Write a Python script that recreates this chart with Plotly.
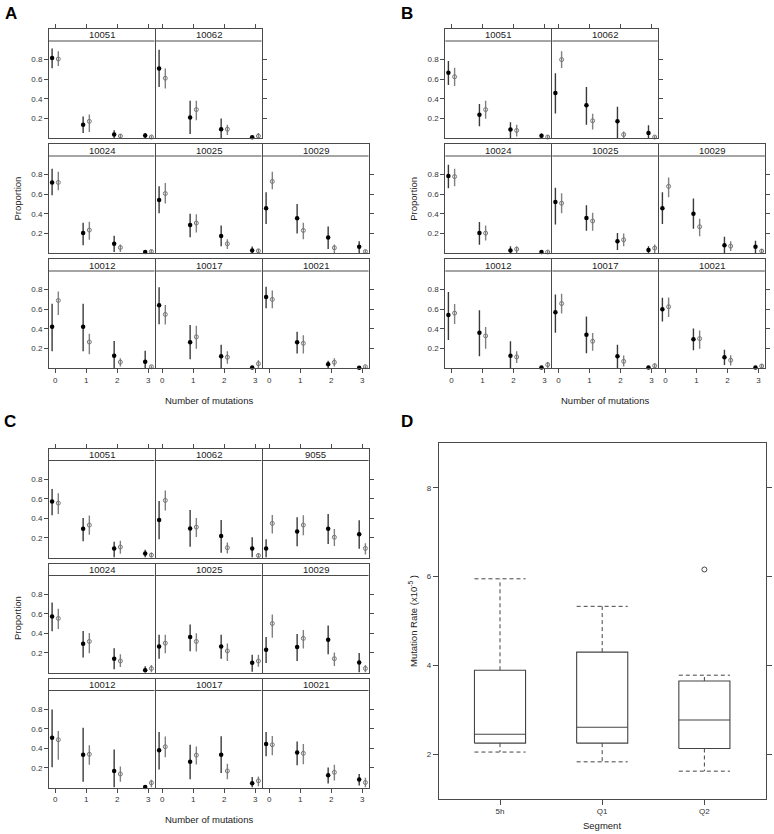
import plotly.graph_objects as go

# ---------------- DATA ----------------
mutations = [0, 1, 2, 3]
tick_labels_y = ["0.2", "0.4", "0.6", "0.8"]
tick_vals_y = [0.2, 0.4, 0.6, 0.8]

AB_facets = ["10051", "10062", "10024", "10025", "10029", "10012", "10017", "10021"]
C_facets = ["10051", "10062", "9055", "10024", "10025", "10029", "10012", "10017", "10021"]

# Panel A
A_black_est = [[0.817, 0.135, 0.035, 0.025], [0.71, 0.21, 0.09, 0.008], [0.72, 0.203, 0.094, 0.01],
               [0.54, 0.285, 0.173, 0.026], [0.456, 0.354, 0.159, 0.063], [0.42, 0.42, 0.124, 0.065],
               [0.64, 0.263, 0.12, 0.006], [0.724, 0.263, 0.037, 0.003]]
A_black_lo = [[0.711, 0.05, 0.0, 0.0], [0.52, 0.04, 0.0, 0.0], [0.59, 0.08, 0.01, 0.0],
              [0.405, 0.16, 0.07, 0.0], [0.295, 0.20, 0.04, 0.0], [0.17, 0.17, 0.0, 0.0],
              [0.446, 0.09, 0.0, 0.0], [0.61, 0.148, 0.0, 0.0]]
A_black_hi = [[0.913, 0.22, 0.08, 0.05], [0.90, 0.38, 0.20, 0.02], [0.86, 0.31, 0.176, 0.025],
              [0.68, 0.40, 0.28, 0.067], [0.62, 0.50, 0.27, 0.12], [0.657, 0.657, 0.276, 0.175],
              [0.824, 0.44, 0.238, 0.015], [0.83, 0.37, 0.075, 0.01]]
A_gray_est = [[0.806, 0.17, 0.02, 0.01], [0.61, 0.29, 0.09, 0.02], [0.72, 0.234, 0.056, 0.015],
              [0.607, 0.306, 0.094, 0.022], [0.73, 0.23, 0.053, 0.015], [0.689, 0.266, 0.06, 0.013],
              [0.547, 0.318, 0.11, 0.044], [0.70, 0.252, 0.058, 0.013]]
A_gray_lo = [[0.735, 0.06, 0.0, 0.0], [0.505, 0.18, 0.03, 0.0], [0.64, 0.135, 0.01, 0.0],
             [0.505, 0.21, 0.04, 0.0], [0.65, 0.14, 0.0, 0.0], [0.54, 0.14, 0.015, 0.0],
             [0.443, 0.197, 0.044, 0.0], [0.61, 0.148, 0.015, 0.0]]
A_gray_hi = [[0.886, 0.24, 0.04, 0.025], [0.71, 0.38, 0.135, 0.05], [0.83, 0.32, 0.087, 0.03],
             [0.715, 0.395, 0.14, 0.04], [0.83, 0.31, 0.087, 0.03], [0.78, 0.35, 0.10, 0.025],
             [0.643, 0.43, 0.17, 0.08], [0.79, 0.335, 0.10, 0.025]]

# Panel B
B_black_est = [[0.666, 0.238, 0.087, 0.022], [0.46, 0.334, 0.17, 0.052], [0.785, 0.203, 0.026, 0.01],
               [0.52, 0.357, 0.121, 0.03], [0.456, 0.40, 0.08, 0.063], [0.54, 0.36, 0.124, 0.006],
               [0.568, 0.339, 0.12, 0.006], [0.60, 0.294, 0.11, 0.006]]
B_black_lo = [[0.54, 0.12, 0.0, 0.0], [0.25, 0.135, 0.0, 0.0], [0.66, 0.083, 0.0, 0.0],
              [0.29, 0.227, 0.03, 0.0], [0.295, 0.248, 0.0, 0.0], [0.287, 0.12, 0.0, 0.0],
              [0.36, 0.15, 0.0, 0.0], [0.474, 0.18, 0.03, 0.0]]
B_black_hi = [[0.785, 0.347, 0.16, 0.045], [0.66, 0.52, 0.32, 0.13], [0.90, 0.316, 0.07, 0.02],
              [0.665, 0.487, 0.203, 0.07], [0.62, 0.555, 0.165, 0.124], [0.775, 0.59, 0.273, 0.015],
              [0.75, 0.526, 0.238, 0.015], [0.716, 0.404, 0.186, 0.015]]
B_gray_est = [[0.625, 0.29, 0.077, 0.01], [0.80, 0.176, 0.035, 0.01], [0.78, 0.203, 0.04, 0.01],
              [0.508, 0.326, 0.135, 0.05], [0.68, 0.268, 0.07, 0.02], [0.56, 0.328, 0.113, 0.034],
              [0.658, 0.273, 0.068, 0.023], [0.625, 0.30, 0.079, 0.02]]
B_gray_lo = [[0.53, 0.197, 0.015, 0.0], [0.714, 0.087, 0.0, 0.0], [0.68, 0.128, 0.0, 0.0],
             [0.405, 0.227, 0.07, 0.0], [0.57, 0.17, 0.02, 0.0], [0.45, 0.197, 0.05, 0.0],
             [0.556, 0.176, 0.016, 0.0], [0.52, 0.197, 0.026, 0.0]]
B_gray_hi = [[0.716, 0.38, 0.135, 0.03], [0.885, 0.248, 0.066, 0.025], [0.86, 0.28, 0.067, 0.025],
             [0.61, 0.41, 0.20, 0.087], [0.77, 0.35, 0.12, 0.04], [0.654, 0.418, 0.17, 0.06],
             [0.757, 0.356, 0.127, 0.045], [0.72, 0.384, 0.13, 0.04]]

# Panel C
C_black_est = [[0.572, 0.293, 0.093, 0.041], [0.383, 0.297, 0.22, 0.093], [0.093, 0.265, 0.293, 0.238],
               [0.572, 0.293, 0.141, 0.024], [0.265, 0.362, 0.265, 0.10], [0.231, 0.259, 0.334, 0.103],
               [0.508, 0.335, 0.169, 0.006], [0.38, 0.263, 0.335, 0.044], [0.443, 0.356, 0.124, 0.082]]
C_black_lo = [[0.43, 0.166, 0.0, 0.0], [0.186, 0.11, 0.048, 0.0], [0.0, 0.114, 0.138, 0.09],
              [0.42, 0.152, 0.034, 0.0], [0.141, 0.217, 0.141, 0.007], [0.097, 0.117, 0.186, 0.0],
              [0.207, 0.058, 0.0, 0.0], [0.183, 0.085, 0.147, 0.0], [0.318, 0.228, 0.04, 0.02]]
C_black_hi = [[0.70, 0.403, 0.162, 0.08], [0.576, 0.486, 0.383, 0.207], [0.186, 0.41, 0.445, 0.38],
              [0.714, 0.424, 0.248, 0.065], [0.386, 0.49, 0.386, 0.18], [0.362, 0.393, 0.48, 0.20],
              [0.797, 0.61, 0.388, 0.02], [0.567, 0.436, 0.522, 0.106], [0.567, 0.47, 0.204, 0.138]]
C_gray_est = [[0.555, 0.331, 0.107, 0.024], [0.583, 0.31, 0.10, 0.02], [0.348, 0.331, 0.207, 0.093],
              [0.552, 0.317, 0.117, 0.041], [0.30, 0.317, 0.22, 0.117], [0.50, 0.348, 0.141, 0.041],
              [0.487, 0.339, 0.138, 0.048], [0.416, 0.33, 0.169, 0.068], [0.436, 0.349, 0.155, 0.051]]
C_gray_lo = [[0.445, 0.231, 0.038, 0.0], [0.48, 0.21, 0.04, 0.0], [0.245, 0.228, 0.117, 0.03],
             [0.445, 0.197, 0.055, 0.0], [0.197, 0.214, 0.117, 0.059], [0.355, 0.245, 0.066, 0.0],
             [0.283, 0.231, 0.058, 0.0], [0.31, 0.235, 0.085, 0.013], [0.328, 0.238, 0.072, 0.0]]
C_gray_hi = [[0.655, 0.428, 0.17, 0.05], [0.683, 0.403, 0.152, 0.045], [0.434, 0.431, 0.29, 0.145],
             [0.65, 0.403, 0.186, 0.076], [0.386, 0.40, 0.297, 0.18], [0.593, 0.434, 0.203, 0.076],
             [0.577, 0.43, 0.214, 0.078], [0.52, 0.418, 0.242, 0.113], [0.526, 0.443, 0.231, 0.10]]

# Panel D (box plot summary statistics)
segments = ["5h", "Q1", "Q2"]
whisker_low = [2.05, 1.83, 1.62]
box_q1 = [2.25, 2.25, 2.13]
box_median = [2.45, 2.61, 2.77]
box_q3 = [3.89, 4.30, 3.65]
whisker_high = [5.95, 5.33, 3.78]
outlier_segment = ["Q2"]
outlier_value = [6.16]
D_yticks = [2, 4, 6, 8]

# ---------------- LAYOUT HELPERS ----------------
W, H = 774, 834
FONT = "Liberation Sans, Arial, sans-serif"
FRAME = "#4a4a4a"
TICKC = "#333333"


def fx(p):
    return p / W


def fy(p):
    return 1 - p / H


fig = go.Figure()
lay = {}
shapes = []
annos = []
counter = [0]


def axis_names():
    counter[0] += 1
    n = counter[0]
    s = "" if n == 1 else str(n)
    return "x" + s, "y" + s, "xaxis" + s, "yaxis" + s


AB_grid = [(0, 0), (0, 1), (1, 0), (1, 1), (1, 2), (2, 0), (2, 1), (2, 2)]
C_grid = [(0, 0), (0, 1), (0, 2), (1, 0), (1, 1), (1, 2), (2, 0), (2, 1), (2, 2)]


def draw_group(facets, grid, left0, top0, be, bl, bh, ge, gl, gh):
    col_pitch, col_w = 107.0, 105.5
    row_pitch, strip_px, plot_px = 115.0, 12.0, 97.0
    ymin, ymax_plot = 0.0, 0.99
    ytop = ymax_plot + strip_px * (ymax_plot - ymin) / plot_px
    ncols_row = {}
    for r, c in grid:
        ncols_row[r] = max(ncols_row.get(r, 0), c + 1)
    last_row = max(r for r, c in grid)
    for i, name in enumerate(facets):
        r, c = grid[i]
        left = left0 + c * col_pitch
        right = left + col_w
        top = top0 + r * row_pitch
        strip_bot = top + strip_px
        bottom = strip_bot + plot_px
        xa, ya, xk, yk = axis_names()
        is_left = c == 0
        is_right = c == ncols_row[r] - 1
        is_top = r == 0
        is_bottom = r == last_row
        xax = dict(domain=[fx(left), fx(right)], range=[-0.2, 3.2], anchor=ya,
                   showline=True, mirror=True, linecolor=FRAME, linewidth=1,
                   showgrid=False, zeroline=False, tickvals=mutations,
                   ticktext=[str(m) for m in mutations], ticklen=4, tickwidth=1,
                   tickcolor=FRAME, tickfont=dict(size=8, color=TICKC, family=FONT))
        if is_bottom:
            xax.update(side="bottom", ticks="outside", showticklabels=True)
        elif is_top:
            xax.update(side="top", ticks="outside", showticklabels=False)
        else:
            xax.update(ticks="", showticklabels=False)
        yax = dict(domain=[fy(bottom), fy(top)], range=[ymin, ytop], anchor=xa,
                   showline=True, mirror=True, linecolor=FRAME, linewidth=1,
                   showgrid=False, zeroline=False, tickvals=tick_vals_y,
                   ticktext=tick_labels_y, ticklen=4, tickwidth=1, tickcolor=FRAME,
                   tickfont=dict(size=8, color=TICKC, family=FONT))
        if is_left:
            yax.update(side="left", ticks="outside", showticklabels=True)
        elif is_right:
            yax.update(side="right", ticks="outside", showticklabels=False)
        else:
            yax.update(ticks="", showticklabels=False)
        lay[xk] = xax
        lay[yk] = yax

        xb = [m - 0.1 for m in mutations]
        xg = [m + 0.1 for m in mutations]
        fig.add_trace(go.Scatter(
            x=xb, y=be[i], xaxis=xa, yaxis=ya, mode="markers", showlegend=False,
            cliponaxis=False,
            marker=dict(symbol="circle", size=4.5, color="#000000"),
            error_y=dict(type="data", symmetric=False,
                         array=[h - e for h, e in zip(bh[i], be[i])],
                         arrayminus=[e - l for e, l in zip(be[i], bl[i])],
                         width=0, thickness=1.4, color="#3a3a3a")))
        fig.add_trace(go.Scatter(
            x=xg, y=ge[i], xaxis=xa, yaxis=ya, mode="markers", showlegend=False,
            cliponaxis=False,
            marker=dict(symbol="circle-open", size=4, color="#777777",
                        line=dict(width=1, color="#777777")),
            error_y=dict(type="data", symmetric=False,
                         array=[h - e for h, e in zip(gh[i], ge[i])],
                         arrayminus=[e - l for e, l in zip(ge[i], gl[i])],
                         width=0, thickness=1.4, color="#808080")))
        # strip
        shapes.append(dict(type="line", xref="paper", yref="paper",
                           x0=fx(left), x1=fx(right), y0=fy(strip_bot), y1=fy(strip_bot),
                           line=dict(color=FRAME, width=1)))
        annos.append(dict(text=name, xref="paper", yref="paper",
                          x=fx((left + right) / 2), y=fy((top + strip_bot) / 2),
                          xanchor="center", yanchor="middle", showarrow=False,
                          font=dict(size=9.5, color="#222222", family=FONT)))
    # group titles
    maxc = max(c for r, c in grid)
    gl_left = left0
    gl_right = left0 + maxc * col_pitch + col_w
    gl_bottom = top0 + last_row * row_pitch + strip_px + plot_px
    annos.append(dict(text="Number of mutations", xref="paper", yref="paper",
                      x=fx((gl_left + gl_right) / 2), y=fy(gl_bottom + 32),
                      xanchor="center", yanchor="middle", showarrow=False,
                      font=dict(size=9.5, color="#222222", family=FONT)))
    annos.append(dict(text="Proportion", xref="paper", yref="paper",
                      x=fx(left0 - 32), y=fy((top0 + gl_bottom) / 2), textangle=-90,
                      xanchor="center", yanchor="middle", showarrow=False,
                      font=dict(size=9.5, color="#222222", family=FONT)))


draw_group(AB_facets, AB_grid, 49.0, 29.0, A_black_est, A_black_lo, A_black_hi,
           A_gray_est, A_gray_lo, A_gray_hi)
draw_group(AB_facets, AB_grid, 445.3, 29.0, B_black_est, B_black_lo, B_black_hi,
           B_gray_est, B_gray_lo, B_gray_hi)
draw_group(C_facets, C_grid, 49.0, 448.5, C_black_est, C_black_lo, C_black_hi,
           C_gray_est, C_gray_lo, C_gray_hi)

# ---------------- PANEL D ----------------
xa, ya, xk, yk = axis_names()
counter[0] += 1
ya2 = "y" + str(counter[0])
yk2 = "yaxis" + str(counter[0])
D_left, D_right, D_top, D_bottom = 438.7, 765.7, 443.3, 798.7
pos = {s: i + 1 for i, s in enumerate(segments)}
lay[xk] = dict(domain=[fx(D_left), fx(D_right)], range=[0.4, 3.6], anchor=ya,
               showline=True, mirror=True, linecolor=FRAME, linewidth=1,
               showgrid=False, zeroline=False, tickvals=[pos[s] for s in segments],
               ticktext=segments, ticks="outside", ticklen=5, tickcolor=FRAME,
               tickfont=dict(size=8, color=TICKC, family=FONT))
lay[yk] = dict(domain=[fy(D_bottom), fy(D_top)], range=[1.0, 9.0], anchor=xa,
               showline=True, mirror=True, linecolor=FRAME, linewidth=1,
               showgrid=False, zeroline=False, tickvals=D_yticks,
               ticktext=[str(v) for v in D_yticks], ticks="outside", ticklen=5,
               tickcolor=FRAME, tickfont=dict(size=8, color=TICKC, family=FONT))
lay[yk2] = dict(domain=[fy(D_bottom), fy(D_top)], range=[1.0, 9.0], anchor=xa,
                overlaying=ya, side="right", showline=False, showgrid=False,
                zeroline=False, tickvals=D_yticks, ticks="outside", ticklen=5,
                tickcolor=FRAME, showticklabels=False)

hw = 0.25
bx, by, mx, my, wx, wy = [], [], [], [], [], []
for i, s in enumerate(segments):
    c = pos[s]
    bx += [c - hw, c + hw, c + hw, c - hw, c - hw, None]
    by += [box_q1[i], box_q1[i], box_q3[i], box_q3[i], box_q1[i], None]
    mx += [c - hw, c + hw, None]
    my += [box_median[i], box_median[i], None]
    wx += [c, c, None, c, c, None, c - hw, c + hw, None, c - hw, c + hw, None]
    wy += [box_q3[i], whisker_high[i], None, box_q1[i], whisker_low[i], None,
           whisker_high[i], whisker_high[i], None, whisker_low[i], whisker_low[i], None]

fig.add_trace(go.Scatter(x=wx, y=wy, xaxis=xa, yaxis=ya, mode="lines", showlegend=False,
                         line=dict(color="#444444", width=1, dash="4px,3px")))
fig.add_trace(go.Scatter(x=bx, y=by, xaxis=xa, yaxis=ya, mode="lines", showlegend=False,
                         line=dict(color="#444444", width=1.1)))
fig.add_trace(go.Scatter(x=mx, y=my, xaxis=xa, yaxis=ya, mode="lines", showlegend=False,
                         line=dict(color="#444444", width=1.1)))
fig.add_trace(go.Scatter(x=[pos[s] for s in outlier_segment], y=outlier_value,
                         xaxis=xa, yaxis=ya, mode="markers", showlegend=False,
                         marker=dict(symbol="circle-open", size=5, color="#444444",
                                     line=dict(width=1, color="#444444"))))
fig.add_trace(go.Scatter(x=[pos[segments[0]]], y=[box_median[0]], xaxis=xa, yaxis=ya2,
                         mode="markers", marker=dict(opacity=0), showlegend=False,
                         hoverinfo="skip"))

annos.append(dict(text="Segment", xref="paper", yref="paper",
                  x=fx((D_left + D_right) / 2), y=fy(825), xanchor="center",
                  yanchor="middle", showarrow=False,
                  font=dict(size=9.5, color="#222222", family=FONT)))
annos.append(dict(text="Mutation Rate (x10<sup>-5</sup> )", xref="paper", yref="paper",
                  x=fx(413), y=fy((D_top + D_bottom) / 2), textangle=-90,
                  xanchor="center", yanchor="middle", showarrow=False,
                  font=dict(size=9.5, color="#222222", family=FONT)))

# panel letters
for letter, lx, ly in [("A", 10.5, 13), ("B", 407, 13), ("C", 9.5, 422), ("D", 407, 422)]:
    annos.append(dict(text="<b>%s</b>" % letter, xref="paper", yref="paper",
                      x=fx(lx), y=fy(ly), xanchor="center", yanchor="middle",
                      showarrow=False, font=dict(size=17, color="#000000", family=FONT)))

fig.update_layout(width=W, height=H, margin=dict(l=0, r=0, t=0, b=0),
                  paper_bgcolor="white", plot_bgcolor="white",
                  shapes=shapes, annotations=annos, showlegend=False, **lay)
fig.write_html("out.html", config={"displayModeBar": False},
               post_script="document.body.style.margin='0px';document.body.style.overflow='hidden';")
